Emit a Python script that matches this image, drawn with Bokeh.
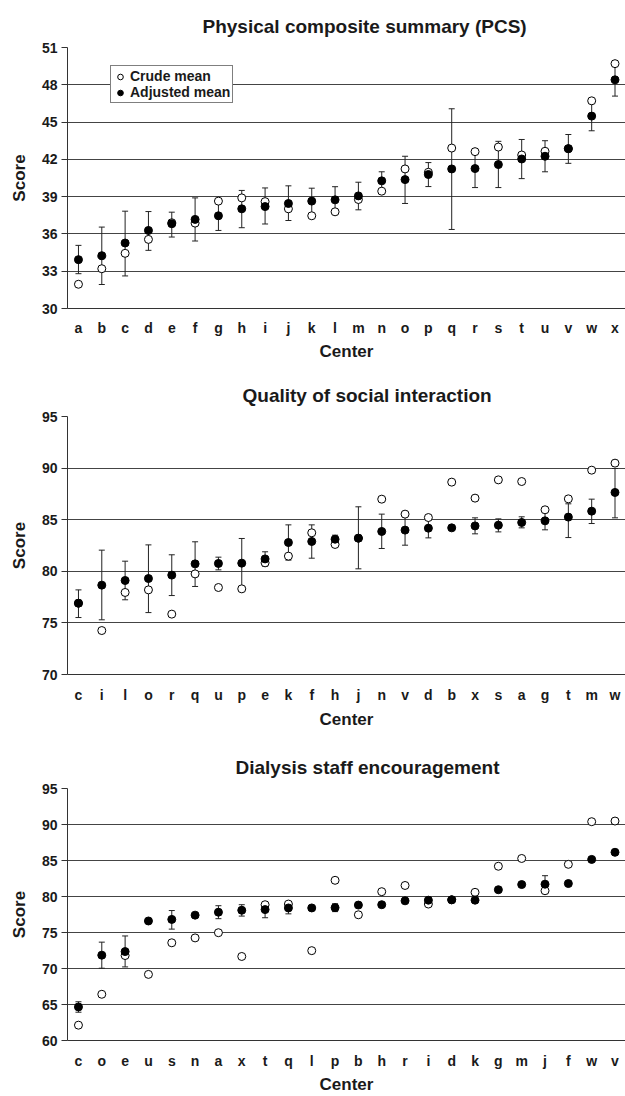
from bokeh.plotting import figure
from bokeh.models import (ColumnDataSource, Whisker, TeeHead, Range1d, FixedTicker,
                          Legend, LegendItem)
from bokeh.layouts import column
from bokeh.embed import file_html
from bokeh.resources import INLINE

FONT = "Liberation Sans"
INK = "#1a1a1a"

# ---------------- Panel 1: Physical composite summary (PCS) ----------------
pcs_centers = list("abcdefghijklmnopqrstuvwx")
pcs_adjusted = [33.93, 34.25, 35.27, 36.28, 36.82, 37.17, 37.46, 38.02, 38.20, 38.45,
                38.64, 38.74, 39.06, 40.27, 40.37, 40.78, 41.23, 41.26, 41.58, 42.03,
                42.25, 42.86, 45.48, 48.40]
pcs_crude = [31.95, 33.20, 34.44, 35.56, 36.90, 36.87, 38.64, 38.90, 38.60, 38.02,
             37.46, 37.78, 38.77, 39.44, 41.23, 40.96, 42.91, 42.62, 42.99, 42.35,
             42.65, 42.86, 46.71, 49.70]
pcs_lower = [32.80, 31.93, 32.62, 34.68, 35.75, 35.43, 36.28, 36.50, 36.80, 37.08,
             37.60, 37.68, 37.94, 39.50, 38.45, 39.81, 36.36, 39.73, 39.73, 40.45,
             41.00, 41.68, 44.30, 47.09]
pcs_upper = [35.08, 36.55, 37.83, 37.80, 37.75, 38.90, 38.64, 39.50, 39.70, 39.87,
             39.68, 39.80, 40.16, 41.00, 42.25, 41.74, 46.07, 42.80, 43.45, 43.60,
             43.50, 44.00, 46.60, 49.70]
pcs_ticks = [30, 33, 36, 39, 42, 45, 48, 51]

# ---------------- Panel 2: Quality of social interaction ----------------
qsi_centers = ["c", "i", "l", "o", "r", "q", "u", "p", "e", "k", "f", "h",
               "j", "n", "v", "d", "b", "x", "s", "a", "g", "t", "m", "w"]
qsi_adjusted = [76.91, 78.66, 79.11, 79.30, 79.63, 80.72, 80.76, 80.79, 81.20, 82.79,
                82.89, 83.11, 83.21, 83.86, 83.99, 84.18, 84.21, 84.40, 84.47, 84.73,
                84.89, 85.25, 85.83, 87.64]
qsi_crude = [76.91, 74.26, 77.95, 78.20, 75.85, 79.75, 78.43, 78.30, 80.82, 81.47,
             83.73, 82.60, 83.21, 86.99, 85.54, 85.21, 88.64, 87.09, 88.86, 88.70,
             85.96, 87.02, 89.80, 90.48]
qsi_lower = [75.52, 75.30, 77.24, 76.00, 77.65, 78.53, 80.14, 78.40, 80.50, 81.08,
             81.27, 82.70, 80.24, 82.21, 82.53, 83.24, None, 83.63, 83.82, 84.21,
             84.02, 83.27, 84.63, 85.18]
qsi_upper = [78.20, 82.05, 80.98, 82.56, 81.60, 82.86, 81.37, 83.18, 81.89, 84.50,
             84.50, 83.50, 86.25, 85.54, 85.45, 85.12, None, 85.18, 85.08, 85.28,
             85.76, 86.54, 86.99, 89.96]
qsi_ticks = [70, 75, 80, 85, 90, 95]

# ---------------- Panel 3: Dialysis staff encouragement ----------------
dse_centers = ["c", "o", "e", "u", "s", "n", "a", "x", "t", "q", "l", "p",
               "b", "h", "r", "i", "d", "k", "g", "m", "j", "f", "w", "v"]
dse_adjusted = [64.66, 71.85, 72.35, 76.60, 76.82, 77.41, 77.82, 78.09, 78.18, 78.41,
                78.41, 78.45, 78.81, 78.86, 79.40, 79.49, 79.54, 79.49, 80.94, 81.66,
                81.71, 81.80, 85.15, 86.14]
dse_crude = [62.13, 66.42, 71.80, 69.18, 73.57, 74.25, 74.97, 71.67, 78.86, 78.95,
             72.48, 82.25, 77.46, 80.67, 81.53, 78.95, 79.54, 80.58, 84.20, 85.28,
             80.80, 84.47, 90.39, 90.48]
dse_lower = [63.93, 70.04, 70.22, None, 75.47, None, 76.92, 77.28, 77.05, 77.59,
             None, 77.90, None, None, None, None, None, None, None, None,
             80.50, None, None, None]
dse_upper = [65.38, 73.66, 74.52, None, 78.05, None, 78.72, 78.86, 78.86, 79.00,
             None, 79.00, None, None, None, None, None, None, None, None,
             82.89, None, None, None]
dse_ticks = [60, 65, 70, 75, 80, 85, 90, 95]


def make_panel(title, centers, crude, adjusted, lower, upper, ticks,
               height, border_top, border_bottom, title_standoff, title_offset,
               tick_standoff, label_standoff, legend=False):
    n = len(centers)
    idx = list(range(n))
    src = ColumnDataSource(dict(x=idx, crude=crude, adjusted=adjusted, center=centers))
    ex = [i for i in idx if lower[i] is not None]
    esrc = ColumnDataSource(dict(x=ex, lower=[lower[i] for i in ex],
                                 upper=[upper[i] for i in ex]))

    p = figure(width=625, height=height, output_backend="svg", toolbar_location=None,
               x_range=Range1d(-0.47, n - 0.55),
               y_range=Range1d(ticks[0], ticks[-1]),
               min_border_left=67, min_border_right=0,
               min_border_top=border_top, min_border_bottom=border_bottom,
               title=title)
    p.outline_line_color = None
    p.background_fill_color = "white"
    p.border_fill_color = "white"

    t = p.title
    t.align = "left"
    t.offset = title_offset
    t.standoff = title_standoff
    t.text_font = FONT
    t.text_font_size = "19px"
    t.text_font_style = "bold"
    t.text_color = INK

    # x axis (center labels on integer positions)
    xa = p.xaxis[0]
    xa.ticker = FixedTicker(ticks=idx)
    xa.major_label_overrides = {i: c for i, c in enumerate(centers)}
    xa.major_tick_out = 0
    xa.major_tick_in = 0
    xa.minor_tick_out = 0
    xa.minor_tick_in = 0
    xa.major_label_standoff = tick_standoff
    xa.major_label_text_font = FONT
    xa.major_label_text_font_size = "14px"
    xa.major_label_text_font_style = "bold"
    xa.major_label_text_color = INK
    xa.axis_label = "Center"
    xa.axis_label_standoff = label_standoff
    xa.axis_label_text_font = FONT
    xa.axis_label_text_font_size = "17px"
    xa.axis_label_text_font_style = "bold"
    xa.axis_label_text_color = INK
    xa.axis_line_color = "#333333"

    ya = p.yaxis[0]
    ya.ticker = FixedTicker(ticks=ticks)
    ya.major_tick_out = 6
    ya.major_tick_in = 0
    ya.minor_tick_out = 0
    ya.minor_tick_in = 0
    ya.major_tick_line_color = "#333333"
    ya.major_label_standoff = 4
    ya.major_label_text_font = FONT
    ya.major_label_text_font_size = "14px"
    ya.major_label_text_font_style = "bold"
    ya.major_label_text_color = INK
    ya.axis_label = "Score"
    ya.axis_label_standoff = 10
    ya.axis_label_text_font = FONT
    ya.axis_label_text_font_size = "17px"
    ya.axis_label_text_font_style = "bold"
    ya.axis_label_text_color = INK
    ya.axis_line_color = "#333333"

    p.xgrid.visible = False
    p.ygrid[0].ticker = FixedTicker(ticks=ticks)
    p.ygrid.grid_line_color = "#444444"
    p.ygrid.grid_line_width = 1

    w = Whisker(source=esrc, base="x", lower="lower", upper="upper",
                dimension="height", line_color="#222222", line_width=1,
                level="underlay")
    w.upper_head = TeeHead(size=6, line_color="#222222", line_width=1)
    w.lower_head = TeeHead(size=6, line_color="#222222", line_width=1)
    p.add_layout(w)

    r_crude = p.scatter("x", "crude", source=src, size=8, fill_color="white",
                        line_color="black", line_width=1)
    r_adj = p.scatter("x", "adjusted", source=src, size=8, fill_color="black",
                      line_color="black", line_width=1)

    if legend:
        frame_h = height - border_top - border_bottom
        leg = Legend(items=[LegendItem(label="Crude mean", renderers=[r_crude]),
                            LegendItem(label="Adjusted mean", renderers=[r_adj])],
                     location=(43, frame_h - 56))
        leg.border_line_color = "black"
        leg.border_line_width = 1
        leg.background_fill_color = "white"
        leg.background_fill_alpha = 1
        leg.padding = 2
        leg.spacing = 0
        leg.margin = 0
        leg.glyph_width = 14
        leg.glyph_height = 15
        leg.label_height = 15
        leg.label_standoff = 3
        leg.label_text_font = FONT
        leg.label_text_font_size = "14px"
        leg.label_text_font_style = "bold"
        leg.label_text_color = INK
        p.add_layout(leg)
    return p


p1 = make_panel("Physical composite summary (PCS)", pcs_centers, pcs_crude, pcs_adjusted,
                pcs_lower, pcs_upper, pcs_ticks,
                height=370, border_top=47, border_bottom=62, title_standoff=22,
                title_offset=135, tick_standoff=11, label_standoff=3, legend=True)
p2 = make_panel("Quality of social interaction", qsi_centers, qsi_crude, qsi_adjusted,
                qsi_lower, qsi_upper, qsi_ticks,
                height=372, border_top=46, border_bottom=68, title_standoff=22,
                title_offset=175, tick_standoff=12, label_standoff=4)
p3 = make_panel("Dialysis staff encouragement", dse_centers, dse_crude, dse_adjusted,
                dse_lower, dse_upper, dse_ticks,
                height=354, border_top=46, border_bottom=50, title_standoff=22,
                title_offset=168, tick_standoff=12, label_standoff=3)

layout = column(p1, p2, p3, spacing=0)
open("out.html", "w").write(file_html(layout, INLINE))
